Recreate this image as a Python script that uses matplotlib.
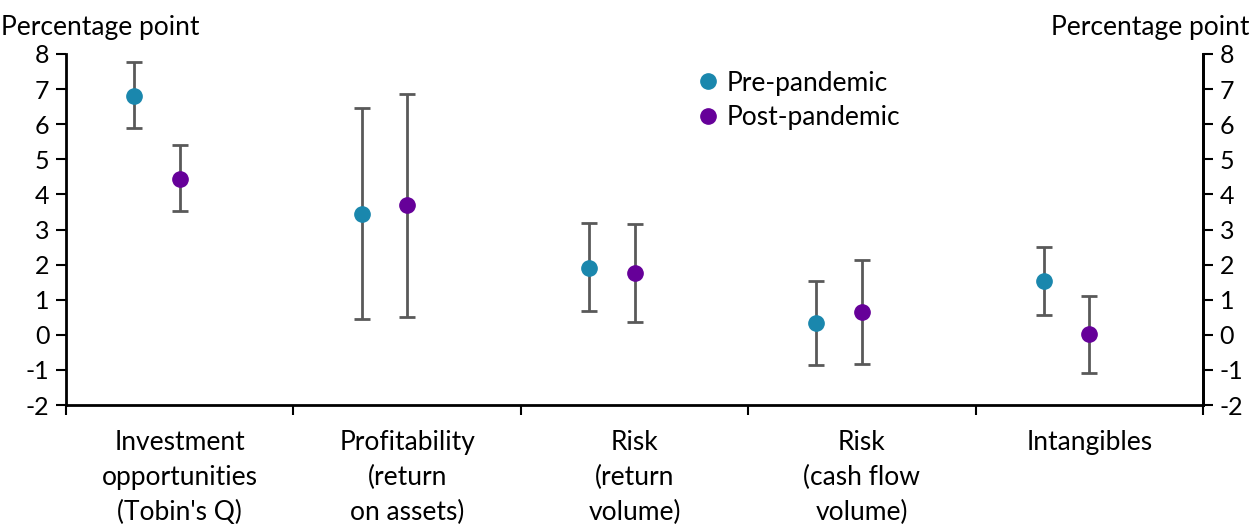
import matplotlib as mpl
mpl.use('Agg')
import matplotlib.pyplot as plt
import matplotlib.transforms as mtransforms
import numpy as np

plt.rcParams['font.family'] = ['Lato', 'DejaVu Sans']

# categories along the x axis
categories = ["Investment\nopportunities\n(Tobin's Q)",
              "Profitability\n(return\non assets)",
              "Risk\n(return\nvolume)",
              "Risk\n(cash flow\nvolume)",
              "Intangibles"]

# point estimates and interval bounds, percentage points
pre_val = [6.81, 3.44, 1.90, 0.35, 1.54]
pre_hi = [7.76, 6.47, 3.19, 1.54, 2.51]
pre_lo = [5.89, 0.45, 0.68, -0.86, 0.56]

post_val = [4.44, 3.70, 1.76, 0.66, 0.02]
post_hi = [5.40, 6.87, 3.15, 2.13, 1.11]
post_lo = [3.53, 0.52, 0.37, -0.82, -1.09]

yticks = [-2, -1, 0, 1, 2, 3, 4, 5, 6, 7, 8]

pre_col = '#1a87ad'
post_col = '#660099'
err_col = '#595959'

fig = plt.figure(figsize=(12.51, 5.24), dpi=100)
ax = fig.add_axes([0.0528, 0.227, 0.9088, 0.670])

n = len(categories)
xc = np.arange(n) + 0.5
pre_x = xc - 0.2
post_x = xc

pre_err = [np.array(pre_val) - np.array(pre_lo), np.array(pre_hi) - np.array(pre_val)]
post_err = [np.array(post_val) - np.array(post_lo), np.array(post_hi) - np.array(post_val)]

ax.errorbar(pre_x, pre_val, yerr=pre_err, fmt='none', ecolor=err_col,
            elinewidth=2, capsize=6, capthick=2, zorder=2)
ax.errorbar(post_x, post_val, yerr=post_err, fmt='none', ecolor=err_col,
            elinewidth=2, capsize=6, capthick=2, zorder=2)
ax.plot(pre_x, pre_val, 'o', color=pre_col, markersize=11, zorder=3, label='Pre-pandemic')
ax.plot(post_x, post_val, 'o', color=post_col, markersize=11, zorder=3, label='Post-pandemic')

ax.set_xlim(0, n)
ax.set_ylim(-2, 8)
ax.set_yticks(yticks)
ax.set_yticklabels([str(t) for t in yticks], fontsize=18)
ax.set_xticks(np.arange(n + 1))
ax.set_xticklabels([])
ax.tick_params(axis='x', direction='out', length=7, width=1.5)
ax.tick_params(axis='y', direction='out', length=7, width=1.5, pad=5)
for s in ['left', 'bottom', 'right']:
    ax.spines[s].set_linewidth(2)
ax.spines['top'].set_visible(False)

ax2 = ax.twinx()
ax2.set_ylim(-2, 8)
ax2.set_yticks(yticks)
ax2.set_yticklabels([str(t) for t in yticks], fontsize=18)
ax2.tick_params(axis='y', direction='out', length=7, width=1.5, pad=5)
for s in ax2.spines.values():
    s.set_visible(False)
ax2.spines['right'].set_visible(True)
ax2.spines['right'].set_linewidth(2)

trans = mtransforms.blended_transform_factory(ax.transData, ax.transAxes)
for x, lab in zip(xc, categories):
    ax.text(x, -0.07, lab, transform=trans, ha='center', va='top',
            fontsize=19, linespacing=1.5)

fig.text(0.001, 0.947, 'Percentage point', ha='left', va='center', fontsize=19)
fig.text(0.999, 0.947, 'Percentage point', ha='right', va='center', fontsize=19)

ax.legend(loc='upper left', bbox_to_anchor=(0.53, 1.02), frameon=False,
          fontsize=19, handletextpad=0.1, labelspacing=0.35, handlelength=1.2)

fig.savefig('out.png', dpi=100)
